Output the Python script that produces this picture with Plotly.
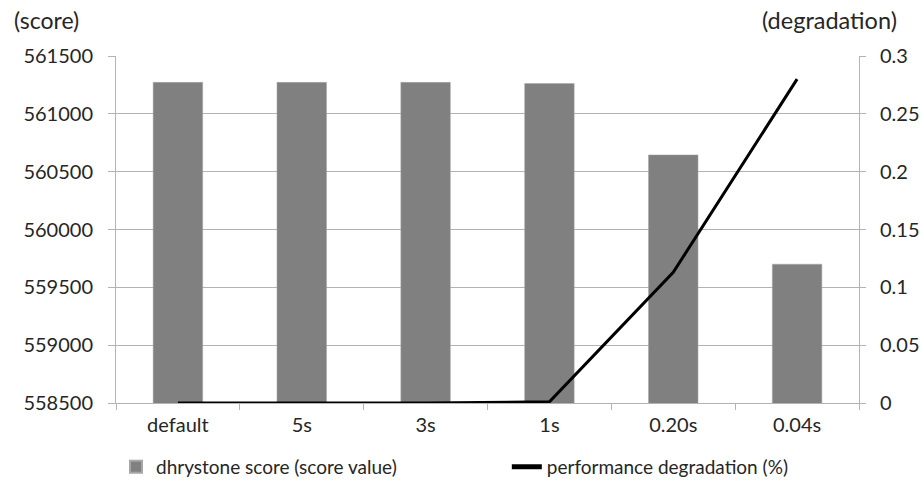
import plotly.graph_objects as go

categories = ["default", "5s", "3s", "1s", "0.20s", "0.04s"]
scores = [561272, 561272, 561272, 561262, 560645, 559700]
degradation = [0, 0, 0, 0.001, 0.113, 0.28]
left_ticks = [558500, 559000, 559500, 560000, 560500, 561000, 561500]
right_ticks = [0, 0.05, 0.1, 0.15, 0.2, 0.25, 0.3]

FONT = "Lato"
TXT = "#262626"
GRID = "#b3b3b3"

fig = go.Figure()
fig.add_trace(go.Bar(
    x=categories, y=scores, name="dhrystone score (score value)",
    marker=dict(color="#808080", line=dict(color="#a6a6a6", width=0.5)),
    yaxis="y", legend="legend",
))
fig.add_trace(go.Scatter(
    x=categories, y=degradation, name="performance degradation (%)",
    mode="lines", line=dict(color="black", width=3), yaxis="y2", legend="legend2",
))

leg_common = dict(orientation="h", yref="container", y=0.047, yanchor="middle",
                  font=dict(size=19, color=TXT), itemsizing="constant",
                  bgcolor="rgba(0,0,0,0)")

fig.update_layout(
    width=924, height=490,
    margin=dict(l=116, r=65, t=56, b=87, autoexpand=False),
    paper_bgcolor="white", plot_bgcolor="white",
    font=dict(family=FONT, size=20, color=TXT),
    bargap=0.6,
    showlegend=True,
    legend=dict(x=0.0, xanchor="left", **leg_common),
    legend2=dict(x=0.526, xanchor="left", **leg_common),
    xaxis=dict(
        type="category", showgrid=False, showline=True, linecolor=GRID, linewidth=1,
        ticks="outside", tickson="boundaries", ticklen=6, tickcolor=GRID,
        tickfont=dict(size=20, color=TXT), automargin=False, ticklabelstandoff=4,
    ),
    yaxis=dict(
        range=[558500, 561500], tickvals=left_ticks, ticktext=[str(v) for v in left_ticks],
        showgrid=True, gridcolor=GRID, gridwidth=1,
        showline=True, linecolor=GRID, linewidth=1,
        ticks="outside", ticklen=7, tickcolor=GRID, ticklabelstandoff=11,
        zeroline=False, tickfont=dict(size=20, color=TXT), automargin=False,
    ),
    yaxis2=dict(
        range=[0, 0.3], tickvals=right_ticks, overlaying="y", side="right",
        showgrid=False, showline=True, linecolor=GRID, linewidth=1,
        ticks="outside", ticklen=6, tickcolor=GRID, zeroline=False, ticklabelstandoff=10,
        tickfont=dict(size=20, color=TXT), automargin=False,
    ),
    annotations=[
        dict(text="(score)", xref="paper", yref="paper", x=-0.140, y=1.104,
             xanchor="left", yanchor="middle", showarrow=False,
             font=dict(size=23, color=TXT)),
        dict(text="(degradation)", xref="paper", yref="paper", x=1.054, y=1.104,
             xanchor="right", yanchor="middle", showarrow=False,
             font=dict(size=23.5, color=TXT)),
    ],
)

fig.write_html("out.html", config={"displayModeBar": False},
               post_script="document.body.style.margin='0px';")
